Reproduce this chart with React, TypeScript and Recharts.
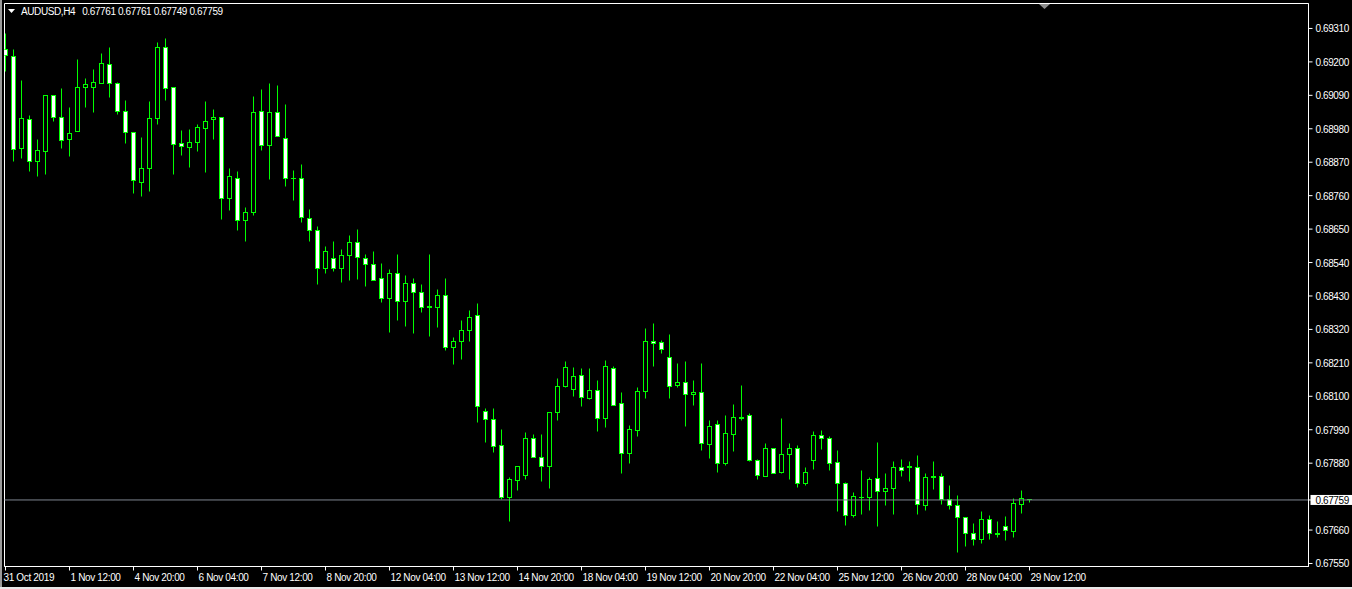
import React from "react";
import { ComposedChart, Bar, XAxis, YAxis, ReferenceLine, ReferenceArea } from "recharts";

const symbol = "AUDUSD,H4";
const lastQuote = ["0.67761", "0.67761", "0.67749", "0.67759"];

// one label every 8 H4 bars
const tickLabels = [
  "31 Oct 2019", "1 Nov 12:00", "4 Nov 20:00", "6 Nov 04:00", "7 Nov 12:00",
  "8 Nov 20:00", "12 Nov 04:00", "13 Nov 12:00", "14 Nov 20:00", "18 Nov 04:00",
  "19 Nov 12:00", "20 Nov 20:00", "22 Nov 04:00", "25 Nov 12:00", "26 Nov 20:00",
  "28 Nov 04:00", "29 Nov 12:00",
];

const opens = [
  0.6924, 0.69218, 0.68914, 0.6901, 0.68872, 0.68905, 0.69089, 0.69016, 0.68944, 0.6897,
  0.69115, 0.69115, 0.6913, 0.69191, 0.69128, 0.69036, 0.68967, 0.68804, 0.68849, 0.69013,
  0.69247, 0.69115, 0.68931, 0.6892, 0.68936, 0.6898, 0.6901, 0.69016, 0.6875, 0.68816,
  0.68677, 0.68704, 0.69036, 0.68926, 0.69033, 0.68947, 0.68816, 0.68816, 0.68684, 0.68645,
  0.6852, 0.68552, 0.6852, 0.68562, 0.68605, 0.68552, 0.68533, 0.68487, 0.68421, 0.68503,
  0.68411, 0.6847, 0.68441, 0.68391, 0.68391, 0.68431, 0.6826, 0.68279, 0.68316, 0.68365,
  0.68049, 0.68023, 0.67937, 0.67766, 0.67822, 0.67839, 0.6796, 0.67898, 0.67868, 0.68046,
  0.68133, 0.68121, 0.68168, 0.68092, 0.68118, 0.68026, 0.68191, 0.68075, 0.67911, 0.67987,
  0.68115, 0.68279, 0.68276, 0.68227, 0.68135, 0.68145, 0.68105, 0.68112, 0.67941, 0.68006,
  0.67878, 0.67973, 0.68028, 0.68036, 0.67888, 0.67835, 0.67927, 0.67848, 0.67908, 0.67927,
  0.67812, 0.67888, 0.6797, 0.6796, 0.67881, 0.67812, 0.67707, 0.67768, 0.67768, 0.67829,
  0.67786, 0.67796, 0.67865, 0.67865, 0.67865, 0.6774, 0.67832, 0.67835, 0.6776, 0.6774,
  0.677, 0.67648, 0.67628, 0.67694, 0.67644, 0.67671, 0.67654, 0.67743, 0.67761,
];

const highs = [
  0.69293, 0.69241, 0.69139, 0.69024, 0.68945, 0.69089, 0.69089, 0.69112, 0.69049, 0.69208,
  0.69145, 0.69174, 0.69227, 0.69247, 0.69133, 0.69073, 0.68968, 0.68951, 0.6907, 0.69263,
  0.69276, 0.69116, 0.68975, 0.68978, 0.68995, 0.69069, 0.69043, 0.69017, 0.6885, 0.68839,
  0.68721, 0.69085, 0.69108, 0.69128, 0.69123, 0.6906, 0.68843, 0.68863, 0.68714, 0.68658,
  0.68592, 0.68608, 0.68582, 0.68628, 0.68648, 0.68566, 0.68575, 0.68537, 0.68516, 0.68567,
  0.68497, 0.68487, 0.68467, 0.68567, 0.6845, 0.68487, 0.68293, 0.68348, 0.68381, 0.68404,
  0.68059, 0.68059, 0.6799, 0.67832, 0.67868, 0.6798, 0.67973, 0.67973, 0.68046, 0.68158,
  0.68215, 0.68194, 0.68191, 0.68191, 0.68151, 0.68217, 0.68197, 0.68112, 0.68003, 0.68128,
  0.68322, 0.68339, 0.68284, 0.68303, 0.68207, 0.68214, 0.68151, 0.68207, 0.68019, 0.68019,
  0.68036, 0.68073, 0.68136, 0.68043, 0.67891, 0.67944, 0.67927, 0.68026, 0.67944, 0.67937,
  0.67865, 0.67983, 0.67987, 0.67967, 0.67921, 0.67816, 0.67783, 0.67855, 0.67832, 0.67947,
  0.67845, 0.67885, 0.67891, 0.67885, 0.67904, 0.67845, 0.67885, 0.67845, 0.67806, 0.67773,
  0.677, 0.67681, 0.6772, 0.67707, 0.67687, 0.67704, 0.67763, 0.67789, 0.67761,
];

const lows = [
  0.6917, 0.68874, 0.68883, 0.68841, 0.68824, 0.68831, 0.69005, 0.68916, 0.6889, 0.6897,
  0.69051, 0.69035, 0.69128, 0.69084, 0.69028, 0.6893, 0.68766, 0.68758, 0.68775, 0.68995,
  0.69074, 0.68831, 0.68893, 0.68854, 0.68906, 0.68837, 0.68945, 0.68683, 0.68712, 0.68647,
  0.6861, 0.68696, 0.6891, 0.68814, 0.68954, 0.68791, 0.68745, 0.68673, 0.6861, 0.68469,
  0.68505, 0.68512, 0.68475, 0.68482, 0.68485, 0.68462, 0.6848, 0.6841, 0.68311, 0.6835,
  0.68331, 0.68308, 0.68377, 0.68298, 0.68327, 0.6825, 0.68206, 0.68222, 0.68281, 0.68013,
  0.67947, 0.67914, 0.6776, 0.67687, 0.67789, 0.67825, 0.67898, 0.67821, 0.67798, 0.68021,
  0.68128, 0.68098, 0.68068, 0.68089, 0.67983, 0.67996, 0.68069, 0.67845, 0.67878, 0.67967,
  0.68092, 0.68197, 0.6824, 0.68092, 0.68128, 0.68, 0.68069, 0.67921, 0.67894, 0.6785,
  0.67873, 0.67919, 0.68019, 0.67885, 0.67825, 0.67835, 0.67845, 0.67845, 0.67827, 0.67799,
  0.67806, 0.6786, 0.67924, 0.67855, 0.6772, 0.67674, 0.677, 0.6771, 0.67723, 0.67673,
  0.67742, 0.67712, 0.67835, 0.67819, 0.67712, 0.67725, 0.67794, 0.67743, 0.67727, 0.67585,
  0.67607, 0.67608, 0.67617, 0.6763, 0.67637, 0.67627, 0.67635, 0.67714, 0.67749,
];

const closes = [
  0.6922, 0.68913, 0.69013, 0.68874, 0.68908, 0.69089, 0.69016, 0.68941, 0.68964, 0.69115,
  0.69125, 0.69131, 0.69194, 0.69128, 0.69036, 0.68967, 0.68811, 0.68849, 0.69013, 0.69247,
  0.69112, 0.68928, 0.68921, 0.68934, 0.68983, 0.69003, 0.69016, 0.6875, 0.68822, 0.68677,
  0.68704, 0.69033, 0.68924, 0.69033, 0.68954, 0.68816, 0.68816, 0.68687, 0.68645, 0.6852,
  0.68575, 0.6852, 0.68562, 0.68605, 0.68556, 0.68533, 0.6848, 0.68421, 0.68503, 0.68411,
  0.6847, 0.68441, 0.68391, 0.68395, 0.68431, 0.6826, 0.68279, 0.68316, 0.68358, 0.68066,
  0.68023, 0.67934, 0.67766, 0.67825, 0.67868, 0.6796, 0.67898, 0.67868, 0.68046, 0.68131,
  0.68194, 0.68164, 0.68095, 0.68118, 0.68026, 0.68197, 0.68069, 0.67911, 0.6799, 0.68115,
  0.68279, 0.68273, 0.68253, 0.68131, 0.68145, 0.68105, 0.68112, 0.67944, 0.68, 0.67878,
  0.67977, 0.68029, 0.68031, 0.67888, 0.67839, 0.67927, 0.67845, 0.67908, 0.67927, 0.67812,
  0.67848, 0.6797, 0.6796, 0.67878, 0.67812, 0.67707, 0.67769, 0.67768, 0.67825, 0.67786,
  0.67796, 0.67865, 0.67855, 0.67868, 0.67743, 0.67832, 0.67835, 0.6776, 0.6774, 0.677,
  0.67648, 0.67628, 0.67694, 0.67648, 0.67648, 0.67658, 0.67746, 0.67763, 0.67759,
];

const priceTicks = [
  0.6931, 0.692, 0.6909, 0.6898, 0.6887, 0.6876, 0.6865, 0.6854, 0.6843,
  0.6832, 0.6821, 0.681, 0.6799, 0.6788, 0.67759, 0.6766, 0.6755,
];
const lastPrice = 0.67759;
const priceMin = 0.675401;
const priceMax = 0.693921;

const BARS_PER_LABEL = 8;
const CANDLE = "#00ff00";
const FONT = "'Liberation Sans', Arial, sans-serif";

const data = opens.map((open, i) => ({
  i,
  open,
  high: highs[i],
  low: lows[i],
  close: closes[i],
  range: [lows[i], highs[i]],
}));

const timeTicks = tickLabels.map((_, k) => k * BARS_PER_LABEL);

function Candle(props: any) {
  const { x, y, width, height, payload } = props;
  if (x == null || y == null) return null;
  const { open, close, high, low } = payload;
  const top = Math.min(y, y + height);
  const h = Math.abs(height);
  const span = high - low;
  const k = span > 0 ? h / span : 0;
  const py = (v: number) => Math.floor(top + (high - v) * k) + 0.5;
  const cx = Math.floor(x + width / 2) + 0.5;
  const bodyTop = py(Math.max(open, close));
  const bodyBot = py(Math.min(open, close));
  const bear = close < open;
  return (
    <g>
      <line x1={cx} x2={cx} y1={py(high)} y2={py(low)} stroke={CANDLE} strokeWidth={1} />
      {bodyBot - bodyTop < 1 ? (
        <line x1={cx - 2.5} x2={cx + 2.5} y1={bodyTop} y2={bodyTop} stroke={CANDLE} strokeWidth={1} />
      ) : (
        <rect
          x={cx - 2}
          y={bodyTop}
          width={4}
          height={bodyBot - bodyTop}
          fill={bear ? "#ffffff" : "#000000"}
          stroke={CANDLE}
          strokeWidth={1}
        />
      )}
    </g>
  );
}

function PriceTick(props: any) {
  const { x, y, payload } = props;
  const v = payload.value as number;
  const label = v.toFixed(5);
  const isLast = Math.abs(v - lastPrice) < 1e-7;
  return (
    <g>
      {isLast && <rect x={x - 5} y={y - 5} width={48} height={10} fill="#ffffff" />}
      <text
        x={x}
        y={y}
        dy={4}
        textAnchor="start"
        fill={isLast ? "#000000" : "#ffffff"}
        fontFamily={FONT}
        fontSize={10}
        letterSpacing={-0.4}
      >
        {label}
      </text>
    </g>
  );
}

function TimeTick(props: any) {
  const { x, y, payload } = props;
  const label = tickLabels[Math.round(payload.value / BARS_PER_LABEL)];
  return (
    <text
      x={payload.value === 0 ? x - 2 : x + 1}
      y={y}
      dy={8}
      textAnchor="start"
      fill="#ffffff"
      fontFamily={FONT}
      fontSize={10}
      letterSpacing={-0.35}
    >
      {label}
    </text>
  );
}

export default function App() {
  return (
    <div
      style={{
        position: "fixed",
        left: 0,
        top: 0,
        width: 1352,
        height: 589,
        background: "#000",
        overflow: "hidden",
      }}
    >
      <ComposedChart
        width={1352}
        height={589}
        data={data}
        margin={{ top: 3.5, right: -0.5, bottom: -0.5, left: 4.5 }}
      >
        <XAxis
          dataKey="i"
          type="number"
          domain={[-0.125, 162.875]}
          ticks={timeTicks}
          interval={0}
          allowDataOverflow
          height={23}
          axisLine={{ stroke: "#ffffff" }}
          tickLine={{ stroke: "#ffffff" }}
          tickSize={4}
          tickMargin={2}
          tick={<TimeTick />}
        />
        <YAxis
          orientation="right"
          type="number"
          domain={[priceMin, priceMax]}
          ticks={priceTicks}
          interval={0}
          allowDataOverflow
          width={44}
          axisLine={{ stroke: "#ffffff" }}
          tickLine={{ stroke: "#ffffff" }}
          tickSize={4}
          tickMargin={3}
          tick={<PriceTick />}
        />
        <ReferenceArea
          x1={-0.125}
          x2={162.875}
          y1={priceMin}
          y2={priceMax}
          fill="none"
          fillOpacity={0}
          stroke="#ffffff"
          ifOverflow="visible"
        />
        <ReferenceLine y={lastPrice} stroke="#7d8590" strokeWidth={1} />
        <Bar dataKey="range" barSize={5} shape={<Candle />} isAnimationActive={false} />
      </ComposedChart>

      <div
        style={{
          position: "absolute",
          left: 8,
          top: 6,
          display: "flex",
          alignItems: "center",
          color: "#fff",
          fontFamily: FONT,
          fontSize: 10,
          letterSpacing: -0.4,
          whiteSpace: "pre",
        }}
      >
        <svg width={13} height={8} style={{ marginRight: 0 }}>
          <polygon points="0,1 7,1 3.5,5" fill="#fff" />
        </svg>
        <span>{symbol}</span>
        <span style={{ marginLeft: 7 }}>{lastQuote.join(" ")}</span>
      </div>

      <svg width={12} height={8} style={{ position: "absolute", left: 1039, top: 4 }}>
        <polygon points="0,0 11,0 5.5,5" fill="#8c8c8c" />
      </svg>

      <div style={{ position: "absolute", left: 0, top: 0, width: 2, height: 589, background: "#9a9a9a" }} />
      <div style={{ position: "absolute", left: 0, top: 587, width: 1352, height: 2, background: "#e8e8e8" }} />
    </div>
  );
}
